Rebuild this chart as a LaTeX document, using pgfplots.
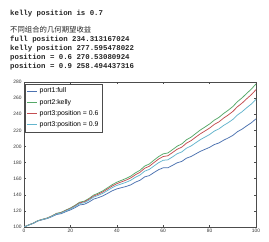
\documentclass[border=0pt]{standalone}
\usepackage{pgfplots}
\pgfplotsset{compat=1.18}
\usepackage{pgfplotstable}
\usepackage{fontspec}
\setmainfont{Liberation Sans}
\newfontfamily\monofont{Liberation Mono}
\newfontfamily\cjk{Noto Sans CJK SC}
\definecolor{sbblue}{HTML}{4C72B0}
\definecolor{sbgreen}{HTML}{55A868}
\definecolor{sbred}{HTML}{C44E52}
\definecolor{sbcyan}{HTML}{64B5CD}
\pgfplotstableread{
x G R C B
0 100 100 100 100
2 102.5 102.5 102.4 102.4
4 104.8 104.7 104.6 104.5
6 107.9 107.8 107.7 107.5
8 109.6 109.4 109.3 109.1
10 111.2 111.0 110.8 110.5
12 113.8 113.5 113.2 112.8
14 116.9 116.5 116.2 115.5
16 118.2 117.7 117.3 116.5
18 121.0 120.5 119.9 119.0
20 123.6 123.0 122.4 121.2
22 126.9 126.2 125.4 124.0
24 130.8 130.0 129.1 127.4
26 132.1 131.2 130.1 128.2
28 135.4 134.4 133.2 131.0
30 139.6 138.4 137.1 134.6
32 142.0 140.7 139.2 136.4
34 144.9 143.5 141.8 138.6
36 148.7 147.2 145.3 141.7
38 152.5 150.8 148.8 144.9
40 155.6 153.8 151.6 147.3
42 157.9 156.0 153.5 148.8
44 160.3 158.2 155.5 150.3
46 163.1 160.9 158.0 152.3
48 167.2 164.8 161.7 155.6
50 170.4 167.9 164.5 158.0
52 175.6 172.9 169.3 162.2
54 178.2 175.4 171.5 163.8
56 182.9 179.9 175.7 167.6
58 187.4 184.3 179.8 171.1
60 190.8 187.5 182.8 173.5
62 191.9 188.4 183.4 173.5
64 196.0 192.4 187.0 176.5
66 200.3 196.5 190.9 179.7
68 203.1 199.1 193.2 181.4
70 208.2 204.0 197.8 185.4
72 211.5 207.2 200.6 187.5
74 216.0 211.5 204.5 190.7
76 220.4 215.7 208.4 193.9
78 224.1 219.2 211.6 196.4
80 227.9 222.8 214.8 198.9
82 232.6 227.3 219.0 202.3
84 236.0 230.5 221.8 204.3
86 240.8 235.1 226.0 207.7
88 244.9 239.0 229.5 210.5
90 249.5 243.4 233.5 213.7
92 255.6 249.3 239.0 218.3
94 260.3 253.8 243.1 221.5
96 265.9 259.2 248.1 225.6
98 271.2 264.3 252.7 229.4
100 277.6 270.5 258.5 234.3
}\data
\begin{document}
\begin{tikzpicture}[x=1bp,y=1bp]
\useasboundingbox[fill=white] (0,0) rectangle (269,242);
\begin{scope}[every node/.style={anchor=base west, inner sep=0pt, text=black!85, font=\monofont\bfseries\fontsize{7.4}{9}\selectfont}]
\node at (10,226.5) {kelly position is 0.7};
\node[font=\cjk\fontsize{7.4}{9}\selectfont] at (10,209.5) {不同组合的几何期望收益};
\node at (10,200.5) {full position 234.313167024};
\node at (10,191.5) {kelly position 277.595478022};
\node at (10,182.5) {position = 0.6 270.53080924};
\node at (10,173.5) {position = 0.9 258.494437316};
\end{scope}
\begin{axis}[at={(24bp,15bp)}, anchor=south west, scale only axis,
  width=232bp, height=145bp,
  xmin=0, xmax=100, ymin=100, ymax=280,
  xtick={0,20,...,100}, ytick={100,120,...,280},
  tick align=inside, tick pos=both, major tick length=2bp,
  tick style={black!70, line width=0.4pt},
  tick label style={font=\fontsize{4.9}{5}\selectfont, text=black!80},
  /pgf/number format/assume math mode=true,
  xticklabel style={yshift=1bp}, yticklabel style={xshift=1bp},
  axis line style={black!70, line width=0.7pt},
  legend style={at={(0.004,0.988)}, anchor=north west, draw=black!70, line width=0.5pt,
    font=\fontsize{6.9}{7}\selectfont, row sep=0.8bp, inner sep=1.8bp, fill=white},
  legend cell align=left,
  legend image code/.code={\draw[#1] plot coordinates {(0bp,0bp) (10bp,0bp)};},
  every axis plot/.append style={line width=0.75pt},
]
\addplot[color=sbblue] table[x=x,y=B] {\data};
\addlegendentry{port1:full}
\addplot[color=sbgreen] table[x=x,y=G] {\data};
\addlegendentry{port2:kelly}
\addplot[color=sbred] table[x=x,y=R] {\data};
\addlegendentry{port3:position = 0.6}
\addplot[color=sbcyan] table[x=x,y=C] {\data};
\addlegendentry{port3:position = 0.9}
\end{axis}
\end{tikzpicture}
\end{document}
